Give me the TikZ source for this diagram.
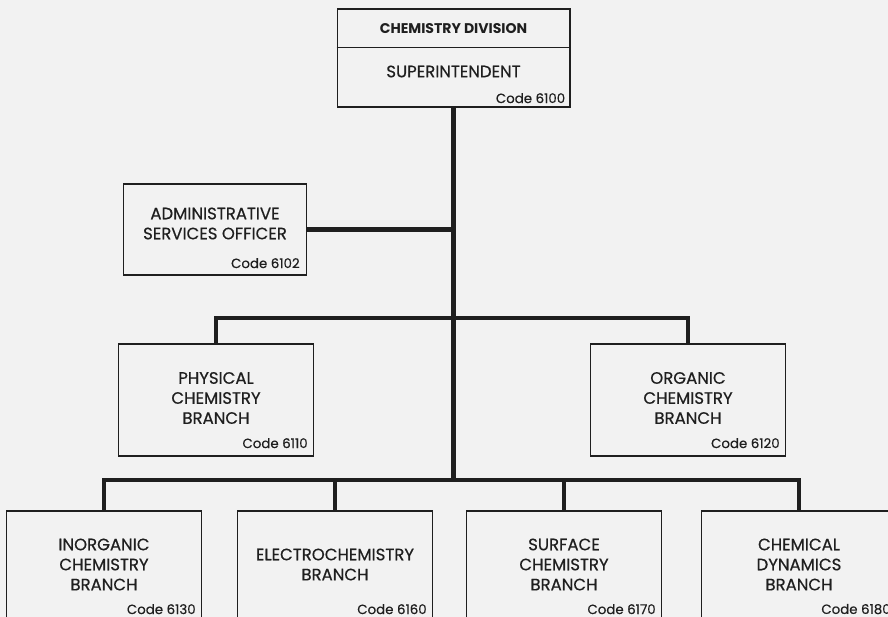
\documentclass[tikz,border=0pt]{standalone}
\usepackage{fontspec}
\setmainfont{Poppins}[UprightFeatures = {FakeBold = 0.5}]
\usetikzlibrary{calc}

\definecolor{paper}{gray}{0.95}
\definecolor{ink}{gray}{0.12}

\begin{document}
\begin{tikzpicture}[x = 0.02cm, y = -0.02cm,
		box/.style = {draw = ink, line width = 0.6pt, minimum width = 3.9cm, minimum height = 2.24cm, inner sep = 0},
		title/.style = {align = center, font = \fontsize{9.4}{11.4}\selectfont, text = ink},
		code/.style = {anchor = south east, font = \fontsize{7.6}{8}\selectfont, text = ink, inner sep = 0},
		link/.style = {draw = ink, line width = 2.7pt}]

	\path [fill = paper, use as bounding box] (0,0) rectangle (888,617);
	\clip (0,0) rectangle (888,617);

	% division head
	\node [box, minimum width = 4.66cm, minimum height = 1.96cm] (div) at (453.5,58) {};
	\draw [ink, line width = 0.6pt] ($(div.north west) + (0,39)$) -- ($(div.north east) + (0,39)$);
	\node [title, font = \fontsize{8}{11.4}\selectfont\bfseries] at ($(div.north) + (0,20)$) {CHEMISTRY DIVISION};
	\node [title] at ($(div.north) + (0,63)$) {SUPERINTENDENT};
	\node [code] at ($(div.south east) + (-5,-4)$) {Code 6100};

	% staff office
	\node [box, minimum width = 3.66cm, minimum height = 1.82cm] (admin) at (215,229.5) {};
	\node [title] at ($(admin) + (0,-6)$) {ADMINISTRATIVE\\SERVICES OFFICER};
	\node [code] at ($(admin.south east) + (-7,-7)$) {Code 6102};

	% first row of branches
	\foreach \name/\x/\txt/\num in {phys/216/{PHYSICAL\\CHEMISTRY\\BRANCH}/6110,
		org/688/{ORGANIC\\CHEMISTRY\\BRANCH}/6120}
	{
		\node [box] (\name) at (\x,400) {};
		\node [title] at ($(\name) + (0,-2)$) {\txt};
		\node [code] at ($(\name.south east) + (-6,-8)$) {Code \num};
	}

	% second row of branches
	\foreach \name/\x/\txt/\num in {inorg/104/{INORGANIC\\CHEMISTRY\\BRANCH}/6130,
		electro/335/{ELECTROCHEMISTRY\\BRANCH}/6160,
		surf/564/{SURFACE\\CHEMISTRY\\BRANCH}/6170,
		dyn/799/{CHEMICAL\\DYNAMICS\\BRANCH}/6180}
	{
		\node [box, minimum height = 2.22cm] (\name) at (\x,566.5) {};
		\node [title] at ($(\name) + (0,-2)$) {\txt};
		\node [code] at ($(\name.south east) + (-6,-8)$) {Code \num};
	}

	\coordinate (upper) at (453.5,318);
	\coordinate (lower) at (453.5,480);

	\draw [link] (div.south) -- (lower);
	\draw [link] (admin.east) -- (admin.east -| div.south);
	\draw [link] (phys.north) |- (upper) -| (org.north);
	\draw [link] (inorg.north) |- (lower) -| (dyn.north);
	\draw [link] (electro.north) -- (electro.north |- lower);
	\draw [link] (surf.north) -- (surf.north |- lower);
\end{tikzpicture}
\end{document}
